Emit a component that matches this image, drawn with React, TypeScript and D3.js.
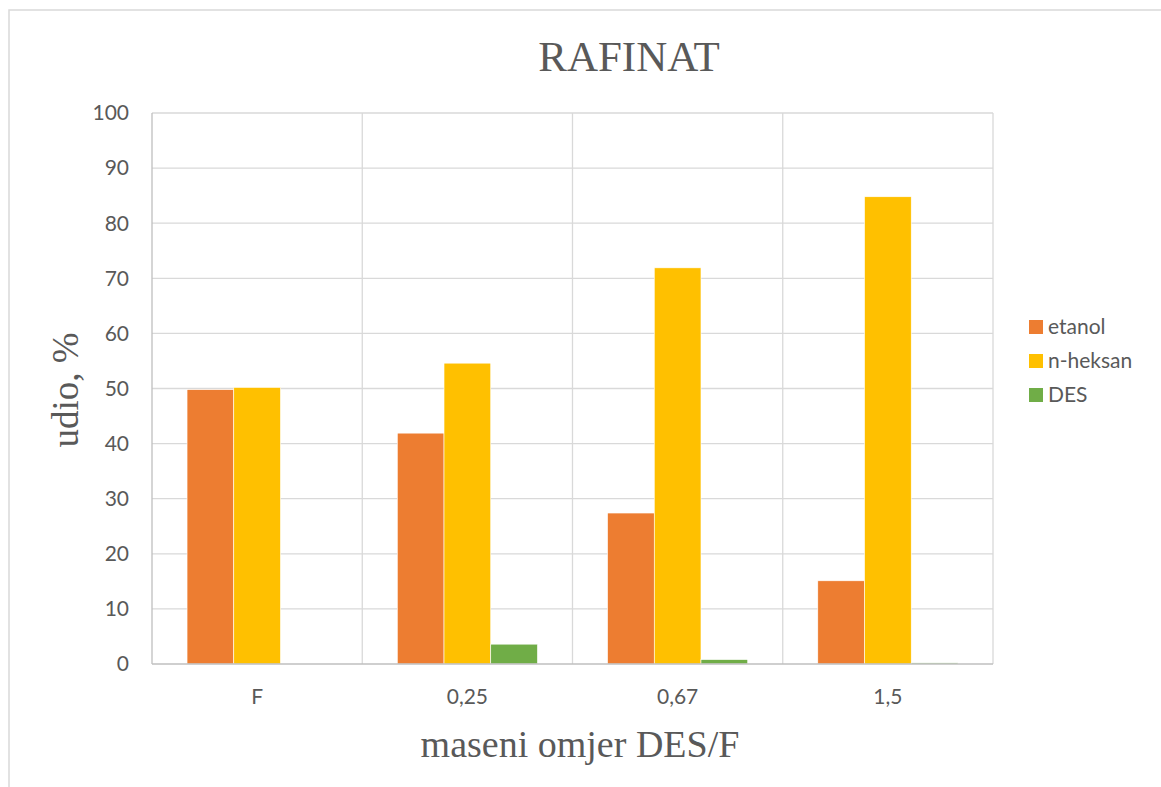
import React from "react";
import * as d3 from "d3";

const categories = ["F", "0,25", "0,67", "1,5"];
const seriesNames = ["etanol", "n-heksan", "DES"];
const etanol = [49.8, 41.9, 27.4, 15.1];
const nHeksan = [50.2, 54.6, 71.9, 84.8];
const des = [0, 3.6, 0.8, 0.2];
const yTicks = [0, 10, 20, 30, 40, 50, 60, 70, 80, 90, 100];
const colors = ["#ED7D31", "#FFC000", "#70AD47"];

export default function App() {
  const W = 1161, H = 787;
  const left = 152, right = 993, top = 113, bottom = 664;
  const x = d3.scaleBand<string>().domain(categories).range([left, right]).padding(0);
  const inner = d3.scaleBand<string>().domain(seriesNames)
    .range([0, x.bandwidth()]).paddingInner(0).paddingOuter(0.75);
  const y = d3.scaleLinear().domain([0, 100]).range([bottom, top]);
  const series = [etanol, nHeksan, des];
  const sans = "Lato, 'Open Sans', sans-serif";
  const serif = "'Liberation Serif', 'Times New Roman', serif";
  return (
    <svg width={W} height={H} style={{ position: "absolute", left: 0, top: 0 }}>
      <rect x={0} y={0} width={W} height={H} fill="#fff" />
      <rect x={9} y={10} width={W + 10} height={H + 10} fill="none" stroke="#D9D9D9" strokeWidth={1.5} />
      {yTicks.map((t) => (
        <g key={t}>
          {t > 0 && <line x1={left} x2={right} y1={y(t)} y2={y(t)} stroke="#D9D9D9" strokeWidth={1.3} />}
          <text x={129} y={y(t)} dy="0.35em" textAnchor="end" fontFamily={sans} fontSize={21} fill="#595959">{t}</text>
        </g>
      ))}
      {categories.map((c, i) => (
        i > 0 ? <line key={c} x1={x(c)!} x2={x(c)!} y1={top} y2={bottom} stroke="#D9D9D9" strokeWidth={1.3} /> : null
      ))}
      <line x1={right} x2={right} y1={top} y2={bottom} stroke="#D9D9D9" strokeWidth={1.3} />
      {series.map((vals, si) =>
        categories.map((c, ci) => {
          const v = vals[ci];
          if (v <= 0) return null;
          return (
            <rect key={si + "-" + ci}
              x={x(c)! + inner(seriesNames[si])!}
              y={y(v)}
              width={inner.bandwidth()}
              height={bottom - y(v)}
              fill={colors[si]} stroke="#fff" strokeWidth={0.6} />
          );
        })
      )}
      <line x1={left} x2={left} y1={top} y2={bottom} stroke="#BFBFBF" strokeWidth={1.3} />
      <line x1={left} x2={right} y1={bottom} y2={bottom} stroke="#BFBFBF" strokeWidth={1.3} />
      {categories.map((c) => (
        <text key={c} x={x(c)! + x.bandwidth() / 2} y={697} dy="0.35em" textAnchor="middle" fontFamily={sans} fontSize={21} fill="#595959">{c}</text>
      ))}
      <text x={629} y={71} textAnchor="middle" fontFamily={serif} fontSize={43} fill="#595959">RAFINAT</text>
      <text x={580} y={757} textAnchor="middle" fontFamily={serif} fontSize={38} fill="#595959">maseni omjer DES/F</text>
      <text transform="translate(78,390) rotate(-90)" textAnchor="middle" fontFamily={serif} fontSize={37} fill="#595959">udio, %</text>
      {seriesNames.map((s, i) => (
        <g key={s}>
          <rect x={1029} y={320 + i * 34} width={14} height={14} fill={colors[i]} />
          <text x={1048} y={327 + i * 34} dy="0.35em" fontFamily={sans} fontSize={21} fill="#595959">{s}</text>
        </g>
      ))}
    </svg>
  );
}
